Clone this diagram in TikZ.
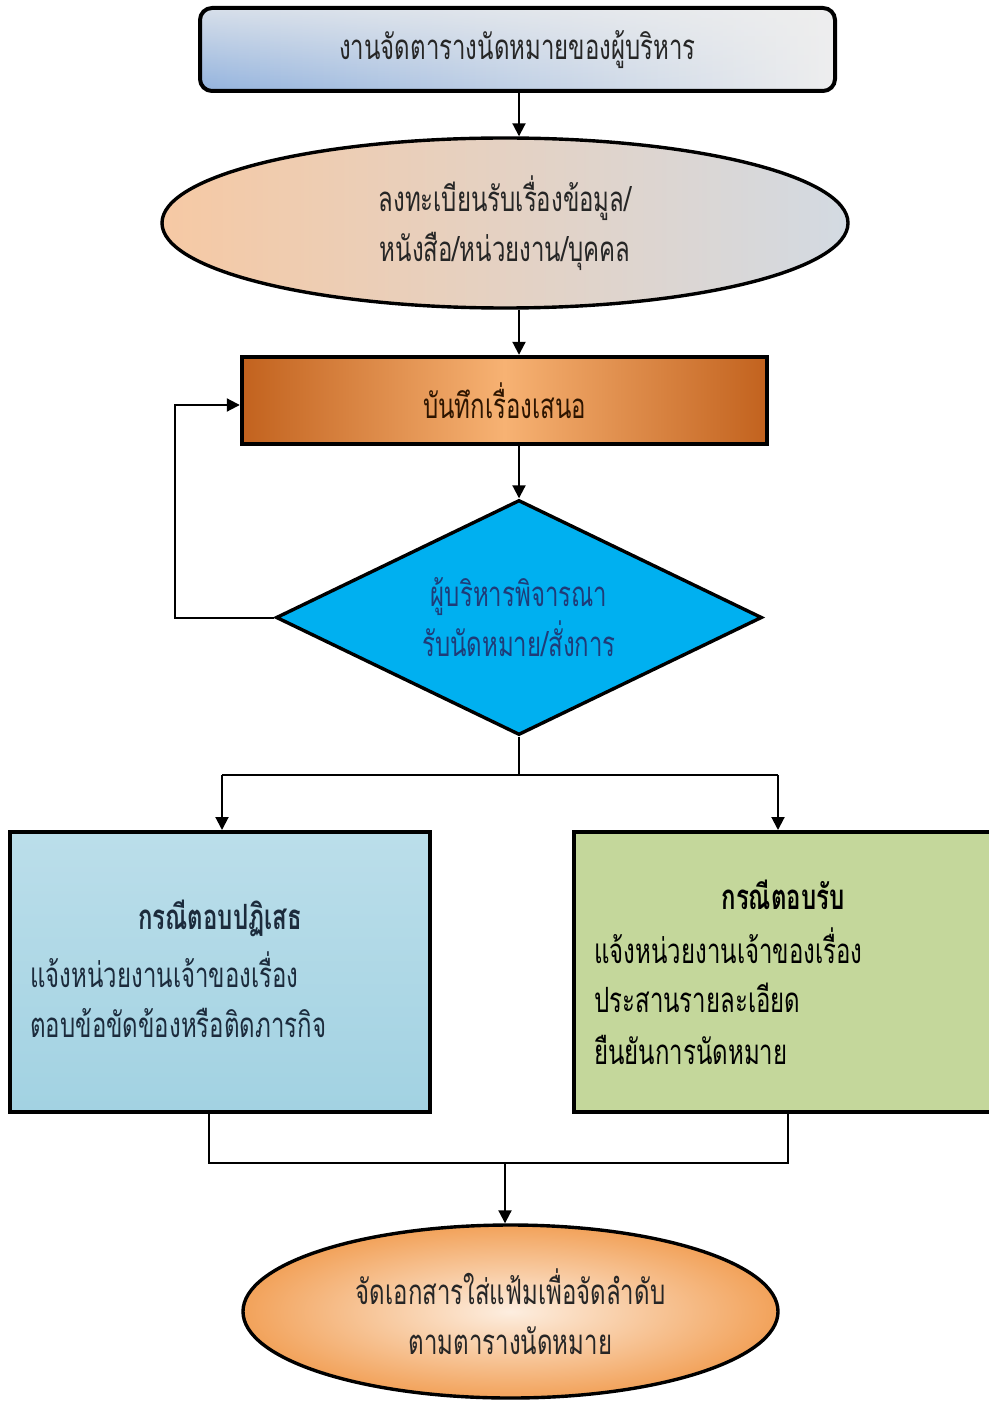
\documentclass[tikz,border=0pt]{standalone}
\usepackage{fontspec}
\newfontfamily\thai[Script=Thai]{Loma}
\usetikzlibrary{shapes.geometric,arrows.meta,fadings}

\definecolor{tbBlue}{HTML}{93B3DE}
\definecolor{tbGray}{HTML}{EEEEEE}
\definecolor{regL}{HTML}{F6C9A4}
\definecolor{regR}{HTML}{D3DAE2}
\definecolor{memoEdge}{HTML}{C2621E}
\definecolor{memoMid}{HTML}{F7B273}
\definecolor{memoText}{HTML}{2E1500}
\definecolor{decFill}{HTML}{00B0F0}
\definecolor{decText}{HTML}{1F3C78}
\definecolor{rejTop}{HTML}{BBDEEA}
\definecolor{rejBot}{HTML}{A2D2E2}
\definecolor{rejText}{HTML}{1C2B3C}
\definecolor{accFill}{HTML}{C4D79B}
\definecolor{endIn}{HTML}{FDEEE0}
\definecolor{endOut}{HTML}{F2A25A}
\definecolor{ink}{HTML}{262626}

% Thai lines are set a little taller than the font's natural proportions
\newcommand{\tl}[1]{\scalebox{1}[1.45]{#1}}

\tikzset{
  txt/.style={font=\thai\fontsize{12}{25}\selectfont, text=ink, align=center},
  hd/.style={font=\thai\bfseries\fontsize{12}{25}\selectfont, inner sep=0pt},
  body/.style={font=\thai\fontsize{12}{25}\selectfont, inner sep=0pt, anchor=west},
  conn/.style={line width=1pt, draw=black},
  arr/.style={conn, -{Triangle[length=6.5pt,width=6.5pt]}},
}

\begin{document}
\begin{tikzpicture}[x=0.5pt,y=-0.5pt]
\useasboundingbox (0,0) rectangle (989,1401);
\fill[white] (0,0) rectangle (989,1401);

% process nodes
\node[txt, line width=2pt, rounded corners=6pt, minimum width=317.5pt, minimum height=41.5pt,
      left color=tbBlue, right color=tbGray,
      postaction={fill=tbGray, fill opacity=0.75, path fading=south},
      postaction={draw=black, line width=2pt}] (title) at (517.5,49.5)
      {\tl{งานจัดตารางนัดหมายของผู้บริหาร}};

\node[txt, ellipse, draw, line width=1.7pt, inner sep=0pt, minimum width=343pt, minimum height=85pt,
      left color=regL, right color=regR] (reg) at (505,223)
      {\tl{ลงทะเบียนรับเรื่องข้อมูล/}\\\tl{หนังสือ/หน่วยงาน/บุคคล}};

\node[txt, draw, line width=2.2pt, minimum width=262.5pt, minimum height=43.5pt,
      left color=memoEdge, right color=memoEdge, middle color=memoMid, text=memoText] (memo) at (504.5,400.5)
      {\tl{บันทึกเรื่องเสนอ}};

\node[txt, diamond, aspect=2, draw, line width=1.7pt, inner sep=0pt, minimum width=243pt, minimum height=117.5pt,
      fill=decFill, text=decText] (dec) at (519,617.5)
      {\tl{ผู้บริหารพิจารณา}\\\tl{รับนัดหมาย/สั่งการ}};

\node[draw, line width=2pt, minimum width=210pt, minimum height=140pt,
      top color=rejTop, bottom color=rejBot] (rej) at (220,972) {};
\node[draw, line width=2pt, minimum width=210.5pt, minimum height=140pt,
      fill=accFill] (acc) at (784.5,972) {};

\node[txt, ellipse, draw, line width=1.7pt, inner sep=0pt, minimum width=267.5pt, minimum height=86.5pt,
      inner color=endIn, outer color=endOut] (fin) at (510.5,1311.5)
      {\tl{จัดเอกสารใส่แฟ้มเพื่อจัดลำดับ}\\\tl{ตามตารางนัดหมาย}};

% text of the two outcome boxes
\node[hd, text=rejText] (rejH) at (220,918) {\tl{กรณีตอบปฏิเสธ}};
\node[body, text=rejText] (rej1) at (30,970) {\tl{แจ้งหน่วยงานเจ้าของเรื่อง}};
\node[body, text=rejText] (rej2) at (30,1023) {\tl{ตอบข้อขัดข้องหรือติดภารกิจ}};

\node[hd, text=black] (accH) at (783,895) {\tl{กรณีตอบรับ}};
\node[body, text=black] (acc1) at (594,946) {\tl{แจ้งหน่วยงานเจ้าของเรื่อง}};
\node[body, text=black] (acc2) at (594,998) {\tl{ประสานรายละเอียด}};
\node[body, text=black] (acc3) at (594,1050) {\tl{ยืนยันการนัดหมาย}};

% routing points
\coordinate (spine) at (519,0);
\coordinate (loop) at (175,405);
\coordinate (split) at (519,775);
\coordinate (lx) at (222,0);
\coordinate (rx) at (778,0);
\coordinate (jl) at (209,1163);
\coordinate (jr) at (788,1163);
\coordinate (jm) at (505,1163);

% connectors
\draw[arr] (title.south -| spine) -- (reg.north -| spine);
\draw[arr] (reg.south -| spine) -- (memo.north -| spine);
\draw[arr] (memo.south -| spine) -- (dec.north);
\draw[arr] (dec.west) -| (loop) -- (memo.west |- loop);
\draw[conn] (dec.south) -- (split);
\draw[conn] (lx |- split) -- (rx |- split);
\draw[arr] (lx |- split) -- (rej.north -| lx);
\draw[arr] (rx |- split) -- (acc.north -| rx);
\draw[conn] (rej.south -| jl) -- (jl) -- (jr) -- (acc.south -| jr);
\draw[arr] (jm) -- (fin.north -| jm);
\end{tikzpicture}
\end{document}
